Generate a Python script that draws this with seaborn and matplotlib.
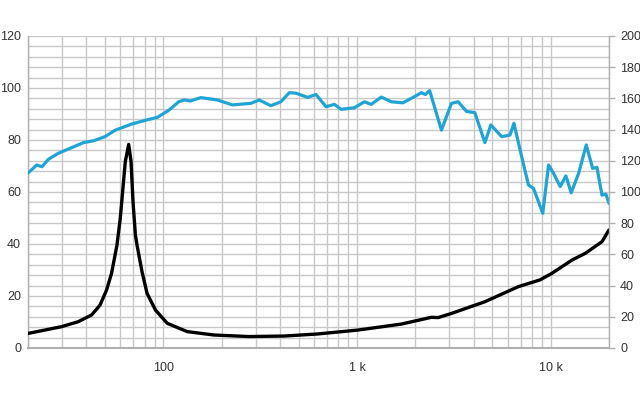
import numpy as np
import pandas as pd
import matplotlib
matplotlib.use("Agg")
import matplotlib.pyplot as plt
import seaborn as sns
from matplotlib.ticker import FixedLocator, NullFormatter, NullLocator

# SPL curve (blue), left axis units
spl_freq = [20, 22.2, 23.6, 25.5, 28.7, 33, 38.7, 43.6, 50, 56.5, 69, 82, 93, 107, 120, 128, 138, 156,
            190, 227, 283, 312, 359, 404, 447, 483, 556, 614, 692, 764, 828, 968, 1092, 1183, 1334,
            1503, 1726, 1982, 2148, 2254, 2372, 2728, 3074, 3330, 3675, 4060, 4572, 4910, 5580,
            6160, 6460, 7080, 7680, 8150, 9100, 9750, 10340, 11200, 11980, 12760, 13940, 15260,
            16460, 17320, 18400, 19280, 20000]
spl_val = [67.3, 70.4, 69.7, 72.6, 74.9, 76.8, 79.0, 79.7, 81.3, 83.8, 86.2, 87.7, 88.7, 91.5, 94.7,
           95.4, 95.0, 96.3, 95.4, 93.5, 94.1, 95.4, 93.2, 94.7, 98.2, 98.0, 96.4, 97.5, 92.8, 93.7,
           91.8, 92.4, 94.7, 93.7, 96.5, 94.7, 94.3, 96.7, 98.2, 97.5, 99.0, 83.8, 94.1, 94.7, 91.0,
           90.5, 79.0, 85.8, 81.3, 81.9, 86.4, 73.6, 62.7, 61.4, 51.8, 70.4, 67.2, 62.1, 66.2, 59.7,
           67.2, 78.1, 69.1, 69.5, 58.8, 59.2, 55.6]

# Impedance curve (black), left axis units
imp_freq = [20, 29.8, 36.3, 42.6, 47.1, 50.9, 54.0, 57.6, 59.9, 61.6, 63.6, 66.2, 68.1, 69.7, 71.7,
            73.1, 77.6, 82.4, 91, 104.7, 132.8, 182, 277, 421, 627, 1010, 1692, 2420, 2625, 3074,
            4572, 6810, 8810, 10140, 12860, 15080, 18400, 20000]
imp_val = [5.6, 8.2, 10.1, 12.7, 16.5, 22.3, 28.7, 39.6, 49.9, 60.1, 71.7, 78.3, 71.7, 56.3, 43.5,
           39.6, 29.3, 21.0, 14.6, 9.5, 6.3, 5.0, 4.4, 4.6, 5.4, 6.9, 9.2, 11.8, 11.7, 13.3,
           17.8, 23.6, 26.2, 28.7, 33.8, 36.4, 40.9, 45.4]

left_ticks = [0, 20, 40, 60, 80, 100, 120]
right_ticks = [0, 20, 40, 60, 80, 100, 120, 140, 160, 180, 200]
x_ticks = [100, 1000, 10000]
x_labels = ["100", "1 k", "10 k"]

imp_df = pd.DataFrame({"f": imp_freq, "v": imp_val})
spl_df = pd.DataFrame({"f": spl_freq, "v": spl_val})

sns.set_style("white")
plt.rcParams["font.family"] = ["Liberation Sans", "DejaVu Sans"]
plt.rcParams["lines.solid_joinstyle"] = "round"
plt.rcParams["lines.solid_capstyle"] = "round"

fig = plt.figure(figsize=(6.4, 4.0), dpi=100)
ax = fig.add_axes([28 / 640, 52 / 400, 581 / 640, 312 / 400])

grid_c = "#c8c8c8"
ax.set_xscale("log")
ax.set_xlim(20, 20000)
ax.set_ylim(0, 120)

# grid lines
minor_x = [m * 10 ** e for e in range(1, 5) for m in range(1, 10) if 20 <= m * 10 ** e <= 20000]
for xv in minor_x:
    ax.axvline(xv, color=grid_c, lw=1.0, zorder=0)
for yv in np.arange(0, 121, 4):
    ax.axhline(yv, color=grid_c, lw=1.0, zorder=0)

sns.lineplot(data=spl_df, x="f", y="v", ax=ax, color="#20a4d6", lw=2.3, sort=False, zorder=3)
sns.lineplot(data=imp_df, x="f", y="v", ax=ax, color="#000000", lw=2.4, sort=False, zorder=4)
for ln in ax.get_lines():
    ln.set_solid_joinstyle("round")

ax.xaxis.set_major_locator(FixedLocator(x_ticks))
ax.set_xticklabels(x_labels)
ax.xaxis.set_minor_locator(NullLocator())
ax.xaxis.set_minor_formatter(NullFormatter())
ax.set_yticks(left_ticks)
ax.set_xlabel("")
ax.set_ylabel("")

for s in ["top", "right"]:
    ax.spines[s].set_visible(False)
ax.spines["left"].set_color("#b0b0b0")
ax.spines["bottom"].set_color("#b0b0b0")
ax.spines["left"].set_linewidth(1.0)
ax.spines["bottom"].set_linewidth(1.5)

ax.tick_params(axis="y", which="both", length=0, pad=5, labelsize=9, labelcolor="#333333")
ax.tick_params(axis="x", which="both", length=0, pad=10, labelsize=9, labelcolor="#333333")

ax2 = ax.twinx()
ax2.set_ylim(0, 200)
ax2.set_yticks(right_ticks)
for s in ["top", "left", "bottom"]:
    ax2.spines[s].set_visible(False)
ax2.spines["right"].set_color("#b0b0b0")
ax2.spines["right"].set_linewidth(1.0)
ax2.tick_params(axis="y", length=4, width=1, color="#b0b0b0", pad=4, labelsize=9, labelcolor="#333333")

fig.savefig("out.png", dpi=100)
